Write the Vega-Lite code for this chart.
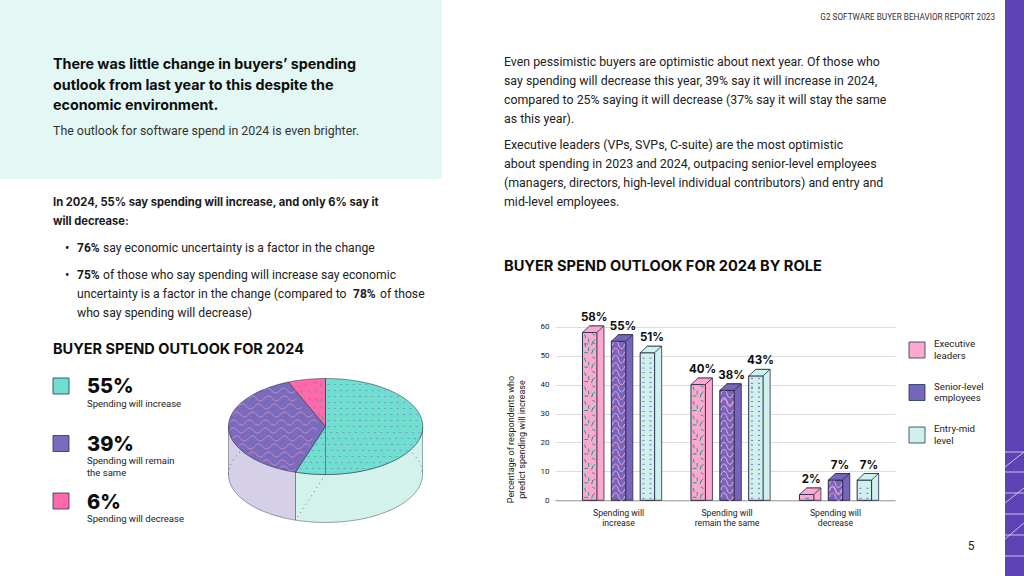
{"$schema":"https://vega.github.io/schema/vega-lite/v6.json","padding":0,"background":"#ffffff","spacing":0,"bounds":"flush",
"config":{"view":{"stroke":null},"font":"Roboto","text":{"font":"Roboto","align":"left","baseline":"middle","color":"#1a1a1a"}},
"datasets":{
"outlook":[
{"group":"Spending will increase","role":"Executive leaders","percent":58,"label":"58%"},
{"group":"Spending will increase","role":"Senior-level employees","percent":55,"label":"55%"},
{"group":"Spending will increase","role":"Entry-mid level","percent":51,"label":"51%"},
{"group":"Spending will remain the same","role":"Executive leaders","percent":40,"label":"40%"},
{"group":"Spending will remain the same","role":"Senior-level employees","percent":38,"label":"38%"},
{"group":"Spending will remain the same","role":"Entry-mid level","percent":43,"label":"43%"},
{"group":"Spending will decrease","role":"Executive leaders","percent":2,"label":"2%"},
{"group":"Spending will decrease","role":"Senior-level employees","percent":7,"label":"7%"},
{"group":"Spending will decrease","role":"Entry-mid level","percent":7,"label":"7%"}],
"tiles":[
{"group":"Spending will increase","role":"Executive leaders","tile":"dash","level":[0,5,10,15,20,25,30,35,40,45,50,53]},
{"group":"Spending will increase","role":"Senior-level employees","tile":"squiggle","level":[0,5,10,15,20,25,30,35,40,45,50]},
{"group":"Spending will increase","role":"Entry-mid level","tile":"dot","level":[0,5,10,15,20,25,30,35,40,45]},
{"group":"Spending will remain the same","role":"Executive leaders","tile":"dash","level":[0,5,10,15,20,25,30,35]},
{"group":"Spending will remain the same","role":"Senior-level employees","tile":"squiggle","level":[0,5,10,15,20,25,30,33]},
{"group":"Spending will remain the same","role":"Entry-mid level","tile":"dot","level":[0,5,10,15,20,25,30,35,38]},
{"group":"Spending will decrease","role":"Executive leaders","tile":"small","level":[0]},
{"group":"Spending will decrease","role":"Senior-level employees","tile":"squiggle","level":[0,2]},
{"group":"Spending will decrease","role":"Entry-mid level","tile":"dot","level":[0]}],
"spend":[
{"slice":"Spending will increase","value":55,"label":"55%","text":"Spending will increase"},
{"slice":"Spending will remain the same","value":39,"label":"39%","text":"Spending will remain\nthe same"},
{"slice":"Spending will decrease","value":6,"label":"6%","text":"Spending will decrease"}],
"pie":[
{"part":"remain side","value":39},{"part":"increase side","value":55},{"part":"hidden"},
{"part":"increase top","value":55},{"part":"remain top","value":39},{"part":"decrease top","value":6},
{"part":"dots"},{"part":"waves"},{"part":"dashes"},{"part":"spine"}]
},
"hconcat":[
{"width":442,"height":576,
"resolve":{"scale":{"x":"independent","y":"independent","shape":"independent","fill":"independent","stroke":"independent","strokeWidth":"independent","strokeDash":"independent"}},
"layer":[
{"data":{"values":[{"panel":"header"}]},
"mark":{"type":"rect","color":"#E3F8F5"},
"encoding":{"x":{"datum":0,"type":"quantitative","axis":null,"scale":{"domain":[0,1],"range":[0,442]}},"x2":{"datum":1},"y":{"datum":0,"type":"quantitative","axis":null,"scale":{"domain":[0,1],"range":[0,179]}},"y2":{"datum":1}}},
{"data":{"values":[{"line":1,"text":"There was little change in buyers’ spending"},{"line":2,"text":"outlook from last year to this despite the"},{"line":3,"text":"economic environment."}]},
"mark":{"type":"text","font":"Inter","fontSize":14.3,"fontWeight":"bold","color":"#0d0d0d"},
"encoding":{"text":{"field":"text"},"x":{"datum":0,"type":"quantitative","axis":null,"scale":{"domain":[0,1],"range":[53,442]}},"y":{"field":"line","type":"quantitative","axis":null,"scale":{"domain":[1,3],"range":[65,106]}}}},
{"data":{"values":[{"line":1,"text":"The outlook for software spend in 2024 is even brighter."}]},
"mark":{"type":"text","fontSize":12.4,"color":"#333333"},
"encoding":{"text":{"field":"text"},"x":{"datum":0,"type":"quantitative","axis":null,"scale":{"domain":[0,1],"range":[53,442]}},"y":{"field":"line","type":"quantitative","axis":null,"scale":{"domain":[1,2],"range":[131,150]}}}},
{"data":{"values":[{"line":1,"text":"In 2024, 55% say spending will increase, and only 6% say it"},{"line":2,"text":"will decrease:"}]},
"mark":{"type":"text","font":"Inter","fontSize":11.2,"fontWeight":"bold"},
"encoding":{"text":{"field":"text"},"x":{"datum":0,"type":"quantitative","axis":null,"scale":{"domain":[0,1],"range":[53,442]}},"y":{"field":"line","type":"quantitative","axis":null,"scale":{"domain":[1,2],"range":[203,222]}}}},
{"data":{"values":[{"line":1,"text":"•"},{"line":2,"text":"•"}]},
"mark":{"type":"text","fontSize":12,"fontWeight":"bold"},
"encoding":{"text":{"field":"text"},"x":{"datum":0,"type":"quantitative","axis":null,"scale":{"domain":[0,1],"range":[65,442]}},"y":{"field":"line","type":"quantitative","axis":null,"scale":{"domain":[1,2],"range":[248,275]}}}},
{"data":{"values":[{"line":1,"text":"76%"},{"line":2,"text":"75%"}]},
"mark":{"type":"text","fontSize":12,"fontWeight":"bold"},
"encoding":{"text":{"field":"text"},"x":{"datum":0,"type":"quantitative","axis":null,"scale":{"domain":[0,1],"range":[77,442]}},"y":{"field":"line","type":"quantitative","axis":null,"scale":{"domain":[1,2],"range":[248,275]}}}},
{"data":{"values":[{"line":1,"text":"say economic uncertainty is a factor in the change"},{"line":2,"text":"of those who say spending will increase say economic"}]},
"mark":{"type":"text","fontSize":12.2,"color":"#222222"},
"encoding":{"text":{"field":"text"},"x":{"datum":0,"type":"quantitative","axis":null,"scale":{"domain":[0,1],"range":[103,442]}},"y":{"field":"line","type":"quantitative","axis":null,"scale":{"domain":[1,2],"range":[248,275]}}}},
{"data":{"values":[{"line":1,"text":"uncertainty is a factor in the change (compared to"},{"line":2,"text":"who say spending will decrease)"}]},
"mark":{"type":"text","fontSize":12.2,"color":"#222222"},
"encoding":{"text":{"field":"text"},"x":{"datum":0,"type":"quantitative","axis":null,"scale":{"domain":[0,1],"range":[77,442]}},"y":{"field":"line","type":"quantitative","axis":null,"scale":{"domain":[1,2],"range":[294,313]}}}},
{"data":{"values":[{"text":"78%"}]},
"mark":{"type":"text","fontSize":12,"fontWeight":"bold"},
"encoding":{"text":{"field":"text"},"x":{"datum":0,"type":"quantitative","axis":null,"scale":{"domain":[0,1],"range":[353,442]}},"y":{"datum":0,"type":"quantitative","axis":null,"scale":{"domain":[0,1],"range":[294,313]}}}},
{"data":{"values":[{"text":"of those"}]},
"mark":{"type":"text","fontSize":12.2,"color":"#222222"},
"encoding":{"text":{"field":"text"},"x":{"datum":0,"type":"quantitative","axis":null,"scale":{"domain":[0,1],"range":[380,442]}},"y":{"datum":0,"type":"quantitative","axis":null,"scale":{"domain":[0,1],"range":[294,313]}}}},
{"data":{"values":[{"text":"BUYER SPEND OUTLOOK FOR 2024"}]},
"mark":{"type":"text","font":"Inter","fontSize":14.5,"fontWeight":"bold","color":"#0d0d0d"},
"encoding":{"text":{"field":"text"},"x":{"datum":0,"type":"quantitative","axis":null,"scale":{"domain":[0,1],"range":[53,442]}},"y":{"datum":0,"type":"quantitative","axis":null,"scale":{"domain":[0,1],"range":[350,369]}}}},
{"data":{"name":"spend"},
"mark":{"type":"point","shape":"square","filled":true,"size":256,"stroke":"#1D3557","strokeWidth":0.8,"opacity":1},
"encoding":{"x":{"datum":0,"type":"quantitative","axis":null,"scale":{"domain":[0,1],"range":[61,442]}},"y":{"field":"slice","type":"nominal","axis":null,"scale":{"domain":["Spending will increase","Spending will remain the same","Spending will decrease"],"range":[386,501],"padding":0}},"fill":{"field":"slice","type":"nominal","legend":null,"scale":{"domain":["Spending will increase","Spending will remain the same","Spending will decrease"],"range":["#6FE0CF","#7A6BBD","#FF69A9"]}}}},
{"data":{"name":"spend"},
"mark":{"type":"text","font":"Inter","fontSize":20,"fontWeight":800,"color":"#0d0d0d"},
"encoding":{"text":{"field":"label"},"x":{"datum":0,"type":"quantitative","axis":null,"scale":{"domain":[0,1],"range":[87,442]}},"y":{"field":"slice","type":"nominal","axis":null,"scale":{"domain":["Spending will increase","Spending will remain the same","Spending will decrease"],"range":[387,503],"padding":0}}}},
{"data":{"name":"spend"},
"mark":{"type":"text","fontSize":9.5,"baseline":"top","lineBreak":"\n","lineHeight":12,"color":"#222222"},
"encoding":{"text":{"field":"text"},"x":{"datum":0,"type":"quantitative","axis":null,"scale":{"domain":[0,1],"range":[87,442]}},"y":{"field":"slice","type":"nominal","axis":null,"scale":{"domain":["Spending will increase","Spending will remain the same","Spending will decrease"],"range":[398.5,513.5],"padding":0}}}},
{"data":{"name":"pie"},
"mark":{"type":"point","filled":true,"size":4,"opacity":1,"strokeCap":"butt"},
"encoding":{
"x":{"datum":0,"type":"quantitative","axis":null,"scale":{"domain":[0,1],"range":[325.5,442]}},
"y":{"datum":0,"type":"quantitative","axis":null,"scale":{"domain":[0,1],"range":[426.5,576]}},
"shape":{"field":"part","type":"nominal","legend":null,"scale":{"domain":["remain side","increase side","hidden","increase top","remain top","decrease top","dots","waves","dashes","spine"],"range":[
"M-97,0L-97,48A97,48 0 0 0 -30,93.6L-30,45.6A97,48 0 0 1 -97,0Z",
"M-30,45.6L-30,93.6A97,48 0 0 0 97,48L97,0A97,48 0 0 1 -30,45.6Z",
"M-97,48A97,48 0 0 1 0,0A97,48 0 0 1 97,48M0,48L-30,93.6M-37,-44V2",
"M0,0L0,-48A97,48 0 1 1 -30,45.6Z",
"M0,0L-30,45.6A97,48 0 0 1 -37,-44.4Z",
"M0,0L-37,-44.4A97,48 0 0 1 0,-48Z",
"M2,-42H45M2,-36H62M2,-30H74M2,-24H82M2,-18H88M2,-12H92M2,-6H94M2,0H95M-2,6H94M-6,12H92M-10,18H88M-14,24H82M-18,30H74M-22,36H62M-26,42H45",
"M-62,-36q4,-5 8,0t8,0t8,0t8,0M-77,-28q4,-5 8,0t8,0t8,0t8,0t8,0t8,0M-87,-20q4,-5 8,0t8,0t8,0t8,0t8,0t8,0t8,0t8,0M-93,-12q4,-5 8,0t8,0t8,0t8,0t8,0t8,0t8,0t8,0t8,0t8,0M-96,-4q4,-5 8,0t8,0t8,0t8,0t8,0t8,0t8,0t8,0t8,0t8,0t8,0M-96,4q4,-5 8,0t8,0t8,0t8,0t8,0t8,0t8,0t8,0t8,0t8,0t8,0M-93,12q4,-5 8,0t8,0t8,0t8,0t8,0t8,0t8,0t8,0t8,0t8,0M-87,20q4,-5 8,0t8,0t8,0t8,0t8,0t8,0t8,0t8,0t8,0M-77,28q4,-5 8,0t8,0t8,0t8,0t8,0t8,0t8,0M-63,36q4,-5 8,0t8,0t8,0t8,0M-46,42q4,-5 8,0t8,0",
"M-28,-41l3,2M-20,-43l0,3M-12,-44l3,1M-5,-42l1,3M-24,-36l1,3M-17,-36l2,2M-9,-37l-2,3M-3,-35l-1,3M-16,-29l0,3M-10,-28l3,2M-4,-28l-1,3M-12,-21l1,3M-5,-20l2,2M-7,-13l1,3M-3,-10l0,3",
"M0,-48V48"]}},
"fill":{"field":"part","type":"nominal","legend":null,"scale":{"domain":["remain side","increase side","hidden","increase top","remain top","decrease top","dots","waves","dashes","spine"],"range":["#D5D0E8","#D3F2EC","transparent","#6FE0CF","#7A6BBD","#FF69A9","transparent","transparent","transparent","transparent"]}},
"stroke":{"field":"part","type":"nominal","legend":null,"scale":{"domain":["remain side","increase side","hidden","increase top","remain top","decrease top","dots","waves","dashes","spine"],"range":["#555566","#445566","#222233","#223344","#223344","#223344","#7A6BBD","#F9A8D4","#12A08A","#0F4A4A"]}},
"strokeWidth":{"field":"part","type":"nominal","legend":null,"scale":{"domain":["remain side","increase side","hidden","increase top","remain top","decrease top","dots","waves","dashes","spine"],"range":[0.6,0.6,0.7,0.6,0.6,0.6,2,1,1,0.9]}},
"strokeDash":{"field":"part","type":"nominal","legend":null,"scale":{"domain":["remain side","increase side","hidden","increase top","remain top","decrease top","dots","waves","dashes","spine"],"range":[[1,0],[1,0],[1,4],[1,0],[1,0],[1,0],[2,4.3],[1,0],[1,0],[1,0]]}}
}}
]},
{"width":113,"height":576,
"resolve":{"scale":{"x":"independent","y":"independent"}},
"layer":[
{"data":{"values":[{"line":1,"text":"Even pessimistic buyers are optimistic about next year. Of those who"},{"line":2,"text":"say spending will decrease this year, 39% say it will increase in 2024,"},{"line":3,"text":"compared to 25% saying it will decrease (37% say it will stay the same"},{"line":4,"text":"as this year)."}]},
"mark":{"type":"text","fontSize":12.35,"color":"#222222"},
"encoding":{"text":{"field":"text"},"x":{"datum":0,"type":"quantitative","axis":null,"scale":{"domain":[0,1],"range":[62,113]}},"y":{"field":"line","type":"quantitative","axis":null,"scale":{"domain":[1,4],"range":[62,119]}}}},
{"data":{"values":[{"line":1,"text":"Executive leaders (VPs, SVPs, C-suite) are the most optimistic"},{"line":2,"text":"about spending in 2023 and 2024, outpacing senior-level employees"},{"line":3,"text":"(managers, directors, high-level individual contributors) and entry and"},{"line":4,"text":"mid-level employees."}]},
"mark":{"type":"text","fontSize":12.4,"color":"#222222"},
"encoding":{"text":{"field":"text"},"x":{"datum":0,"type":"quantitative","axis":null,"scale":{"domain":[0,1],"range":[62,113]}},"y":{"field":"line","type":"quantitative","axis":null,"scale":{"domain":[1,4],"range":[145,202]}}}},
{"data":{"values":[{"text":"BUYER SPEND OUTLOOK FOR 2024 BY ROLE"}]},
"mark":{"type":"text","font":"Inter","fontSize":14.6,"fontWeight":"bold","color":"#0d0d0d"},
"encoding":{"text":{"field":"text"},"x":{"datum":0,"type":"quantitative","axis":null,"scale":{"domain":[0,1],"range":[62,113]}},"y":{"datum":0,"type":"quantitative","axis":null,"scale":{"domain":[0,1],"range":[267,286]}}}}
]},
{"width":340,"height":500.3,
"resolve":{"scale":{"xOffset":"independent"}},
"encoding":{
"x":{"field":"group","type":"nominal","title":null,"scale":{"domain":["Spending will increase","Spending will remain the same","Spending will decrease"],"paddingInner":0,"paddingOuter":0.067,"align":0.64},
"axis":{"labelAngle":0,"labelFontSize":8.7,"labelColor":"#222222","ticks":false,"domainColor":"#999999","domainWidth":1,"labelPadding":8,"labelLimit":200,"labelLineHeight":10,"labelExpr":"datum.value == 'Spending will increase' ? ['Spending will','increase'] : datum.value == 'Spending will remain the same' ? ['Spending will','remain the same'] : ['Spending will','decrease']"}},
"xOffset":{"field":"role","type":"nominal","scale":{"type":"band","domain":["Executive leaders","Senior-level employees","Entry-mid level"],"paddingInner":0.5,"paddingOuter":0.63}}
},
"layer":[
{"data":{"name":"outlook"},
"mark":{"type":"bar","yOffset":-6.5,"stroke":"#2A2A4A","strokeWidth":0.8},
"encoding":{
"xOffset":{"field":"role","type":"nominal","scale":{"type":"band","domain":["Executive leaders","Senior-level employees","Entry-mid level"],"paddingInner":0.5,"paddingOuter":0.63,"align":0.694}},
"y":{"field":"percent","type":"quantitative","stack":null,"scale":{"domain":[0,60],"range":[500.3,326.7]},"title":["Percentage of respondents who","predict spending will increase"],
"axis":{"values":[0,10,20,30,40,50,60],"labelFontSize":8,"labelColor":"#222222","ticks":false,"domain":false,"gridColor":"#DDDDDD","gridWidth":1,"labelPadding":6,"titleFontSize":9,"titleFontWeight":"normal","titleColor":"#222222","titlePadding":14,"titleLineHeight":11,"titleY":439}},
"y2":{"datum":0},
"fill":{"field":"role","type":"nominal","legend":null,"scale":{"domain":["Executive leaders","Senior-level employees","Entry-mid level"],"range":["#FDA9CE","#7565BB","#CFF1EB"]}}}},
{"data":{"name":"outlook"},
"mark":{"type":"bar","stroke":"#2A2A4A","strokeWidth":1},
"encoding":{
"y":{"field":"percent","type":"quantitative"},
"fill":{"field":"role","type":"nominal","legend":null}}},
{"data":{"name":"tiles"},"transform":[{"flatten":["level"]}],
"mark":{"type":"point","filled":false,"size":4,"opacity":1,"strokeCap":"round","strokeWidth":1},
"encoding":{
"y":{"field":"level","type":"quantitative"},
"shape":{"field":"tile","type":"nominal","legend":null,"scale":{"domain":["dash","squiggle","dot","small"],"range":[
"M-5,-12l1,3M3,-13l2,1M-1,-8l0,3M5,-7l-2,2M-5,-3l3,0M2,-2l1,-3",
"M-6,-3.6c1,-5 5,-5 6,0s5,5 6,0M-6,-10.8c1,-5 5,-5 6,0s5,5 6,0",
"M-4.5,-12h1.2M2.5,-12h1.2M-4.5,-7h1.2M2.5,-7h1.2M-4.5,-2h1.2M2.5,-2h1.2",
"M-1,-2h3"]}},
"stroke":{"field":"tile","type":"nominal","legend":null,"scale":{"domain":["dash","squiggle","dot","small"],"range":["#12A08A","#F9A8D4","#7A6BBD","#12A08A"]}}}},
{"data":{"name":"outlook"},
"mark":{"type":"point","shape":"M-7.15,0L-0.15,-6.5L14.15,-6.5L7.15,0Z","filled":true,"size":4,"opacity":1,"stroke":"#2A2A4A","strokeWidth":0.8},
"encoding":{
"y":{"field":"percent","type":"quantitative"},
"fill":{"field":"role","type":"nominal","legend":null}}},
{"data":{"name":"outlook"},
"mark":{"type":"text","align":"center","font":"Inter","fontSize":11.5,"fontWeight":"bold","dx":4.5,"dy":-14.5,"color":"#0d0d0d"},
"encoding":{
"y":{"field":"percent","type":"quantitative"},
"text":{"field":"label"}}}
]},
{"width":110,"height":576,
"resolve":{"scale":{"x":"independent","y":"independent"}},
"layer":[
{"data":{"values":[{"text":"G2 SOFTWARE BUYER BEHAVIOR REPORT 2023"}]},
"mark":{"type":"text","fontSize":8.2,"align":"right","color":"#333333"},
"encoding":{"text":{"field":"text"},"x":{"datum":0,"type":"quantitative","axis":null,"scale":{"domain":[0,1],"range":[100,110]}},"y":{"datum":0,"type":"quantitative","axis":null,"scale":{"domain":[0,1],"range":[18,30]}}}},
{"data":{"name":"outlook"},"transform":[{"filter":"datum.group == 'Spending will increase'"}],
"mark":{"type":"point","shape":"square","filled":true,"size":256,"opacity":1,"stroke":"#1D3557","strokeWidth":0.8},
"encoding":{
"x":{"datum":0,"type":"quantitative","axis":null,"scale":{"domain":[0,1],"range":[22,110]}},
"y":{"field":"role","type":"nominal","axis":null,"scale":{"domain":["Executive leaders","Senior-level employees","Entry-mid level"],"range":[350,435],"padding":0}},
"fill":{"field":"role","type":"nominal","legend":null,"scale":{"domain":["Executive leaders","Senior-level employees","Entry-mid level"],"range":["#FDA9CE","#7A6BBD","#D3F2EC"]}}}},
{"data":{"values":[{"role":"Executive leaders","text":"Executive\nleaders"},{"role":"Senior-level employees","text":"Senior-level\nemployees"},{"role":"Entry-mid level","text":"Entry-mid\nlevel"}]},
"mark":{"type":"text","fontSize":9.7,"lineBreak":"\n","lineHeight":11.5,"color":"#222222"},
"encoding":{
"text":{"field":"text"},
"x":{"datum":0,"type":"quantitative","axis":null,"scale":{"domain":[0,1],"range":[39,110]}},
"y":{"field":"role","type":"nominal","axis":null,"scale":{"domain":["Executive leaders","Senior-level employees","Entry-mid level"],"range":[344,429],"padding":0}}}},
{"data":{"values":[{"page":"5"}]},
"mark":{"type":"text","fontSize":12,"align":"center","color":"#222222"},
"encoding":{"text":{"field":"page"},"x":{"datum":0,"type":"quantitative","axis":null,"scale":{"domain":[0,1],"range":[76,110]}},"y":{"datum":0,"type":"quantitative","axis":null,"scale":{"domain":[0,1],"range":[546,576]}}}}
]},
{"width":19,"height":576,"view":{"fill":"#5C42B4","stroke":null},
"data":{"values":[{"name":"decoration"}]},
"mark":{"type":"point","filled":false,"size":4,"opacity":0.75,"stroke":"#ffffff","strokeWidth":0.9,"shape":"M-9.5,164H9.5M-9.5,184H9.5M-9.5,205H9.5M-9.5,226H9.5M-9.5,247H9.5M-9.5,268H9.5M-9.5,179L9.5,164M-9.5,215L9.5,200M-9.5,251L9.5,235"}}
]}
